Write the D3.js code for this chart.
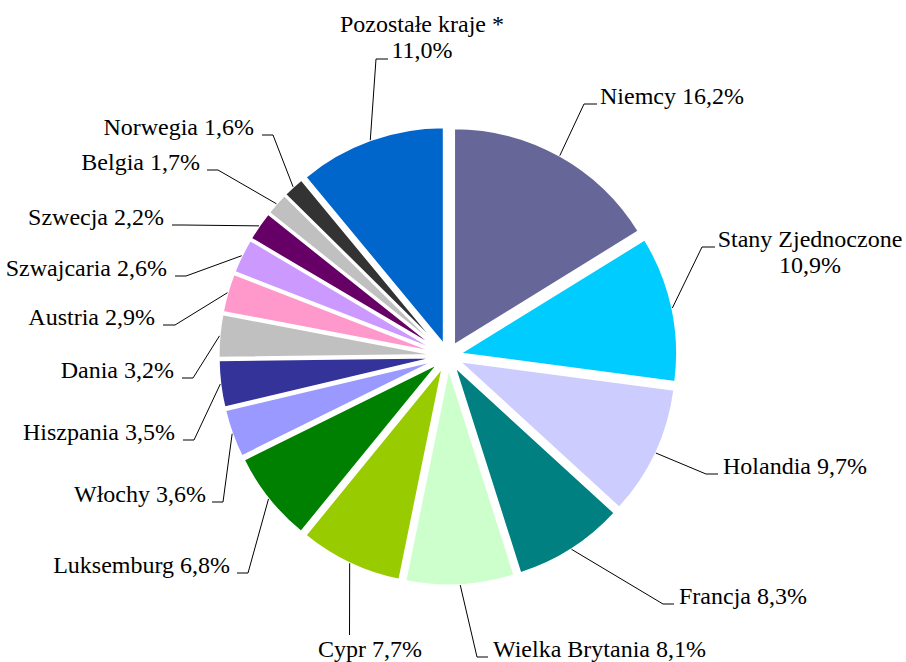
<!DOCTYPE html>
<html>
<head>
<meta charset="utf-8">
<script src="https://cdnjs.cloudflare.com/ajax/libs/d3/7.8.5/d3.min.js"></script>
<style>
  body { margin: 0; background: #fff; }
</style>
</head>
<body>
<div id="chart"></div>
<script>
var countries = ["Niemcy", "Stany Zjednoczone", "Holandia", "Francja", "Wielka Brytania", "Cypr",
  "Luksemburg", "Włochy", "Hiszpania", "Dania", "Austria", "Szwajcaria", "Szwecja", "Belgia",
  "Norwegia", "Pozostałe kraje *"];
var shares = [16.2, 10.9, 9.7, 8.3, 8.1, 7.7, 6.8, 3.6, 3.5, 3.2, 2.9, 2.6, 2.2, 1.7, 1.6, 11.0];
var shareLabels = ["16,2%", "10,9%", "9,7%", "8,3%", "8,1%", "7,7%", "6,8%", "3,6%", "3,5%",
  "3,2%", "2,9%", "2,6%", "2,2%", "1,7%", "1,6%", "11,0%"];
var colors = ["#666699", "#00CCFF", "#CCCCFF", "#008080", "#CCFFCC", "#99CC00", "#008000",
  "#9999FF", "#333399", "#C0C0C0", "#FF99CC", "#CC99FF", "#660066", "#C0C0C0", "#333333", "#0066CC"];

(function autoexecute() {
  var width = 906, height = 662;
  var cx = 448, cy = 356, radius = 217, explode = 12.4;
  var serif = "'Liberation Serif', 'Times New Roman', Times, 'DejaVu Serif', serif";

  // label placement, set by hand like in the original chart
  // t: text position, a: anchor, two: two line label, e: end of leader line near text, k: knee offset
  var layout = [
    {t: [600, 104], a: "start",  two: false, e: [597, 104], k: -13},
    {t: [810, 247], a: "middle", two: true,  e: [715, 247], k: -13},
    {t: [723, 474], a: "start",  two: false, e: [718, 474], k: -12},
    {t: [679, 604], a: "start",  two: false, e: [674, 604], k: -11},
    {t: [493, 657], a: "start",  two: false, e: [488, 657], k: -11},
    {t: [370, 657], a: "middle", two: false, e: [349.5, 635], k: 0},
    {t: [230, 573], a: "end",    two: false, e: [237, 573], k: 11},
    {t: [206, 502], a: "end",    two: false, e: [212, 502], k: 11},
    {t: [175, 440], a: "end",    two: false, e: [183, 440], k: 11},
    {t: [174, 378], a: "end",    two: false, e: [182, 378], k: 11},
    {t: [155, 325], a: "end",    two: false, e: [163, 325], k: 12},
    {t: [167, 276], a: "end",    two: false, e: [175, 276], k: 11},
    {t: [164, 225], a: "end",    two: false, e: [172, 225], k: 11},
    {t: [200, 170], a: "end",    two: false, e: [207, 170], k: 11},
    {t: [254, 135], a: "end",    two: false, e: [262, 135], k: 11},
    {t: [422, 32],  a: "middle", two: true,  e: [388, 59],  k: -12}
  ];

  var svg = d3.select("#chart")
    .append("svg")
      .attr("width", width)
      .attr("height", height);

  var pie = d3.pie().sort(null).value(function(d) { return d; });
  var arcs = pie(shares);

  var arc = d3.arc().innerRadius(0).outerRadius(radius);

  function mid(d) { return (d.startAngle + d.endAngle) / 2; }

  // slices, each pushed out a bit along its middle
  svg.append("g")
    .attr("transform", "translate(" + cx + "," + cy + ")")
    .selectAll("path")
    .data(arcs)
    .join("path")
      .attr("transform", function(d) {
        return "translate(" + (Math.sin(mid(d)) * explode) + "," + (-Math.cos(mid(d)) * explode) + ")";
      })
      .attr("d", arc)
      .attr("fill", function(d, i) { return colors[i]; })
      .attr("stroke", "#fff")
      .attr("stroke-width", 2);

  // leader lines
  var line = d3.line();
  svg.append("g")
    .selectAll("path")
    .data(arcs)
    .join("path")
      .attr("fill", "none")
      .attr("stroke", "#000")
      .attr("stroke-width", 1)
      .attr("d", function(d, i) {
        var a = mid(d), r = radius + explode;
        var p0 = [cx + Math.sin(a) * r, cy - Math.cos(a) * r];
        var L = layout[i];
        var pts = [p0];
        if (L.k !== 0) pts.push([L.e[0] + L.k, L.e[1]]);
        pts.push(L.e);
        return line(pts);
      });

  // labels
  var labels = svg.append("g")
    .selectAll("text")
    .data(arcs)
    .join("text")
      .attr("x", function(d, i) { return layout[i].t[0]; })
      .attr("y", function(d, i) { return layout[i].t[1]; })
      .attr("text-anchor", function(d, i) { return layout[i].a; })
      .attr("font-family", serif)
      .attr("font-size", 24)
      .attr("fill", "#000")
      .style("font-family", serif);

  labels.each(function(d, i) {
    var el = d3.select(this);
    if (layout[i].two) {
      el.append("tspan").text(countries[i]);
      el.append("tspan")
        .attr("x", layout[i].t[0])
        .attr("dy", 26)
        .text(shareLabels[i]);
    } else {
      el.text(countries[i] + " " + shareLabels[i]);
    }
  });
})();
</script>
</body>
</html>
